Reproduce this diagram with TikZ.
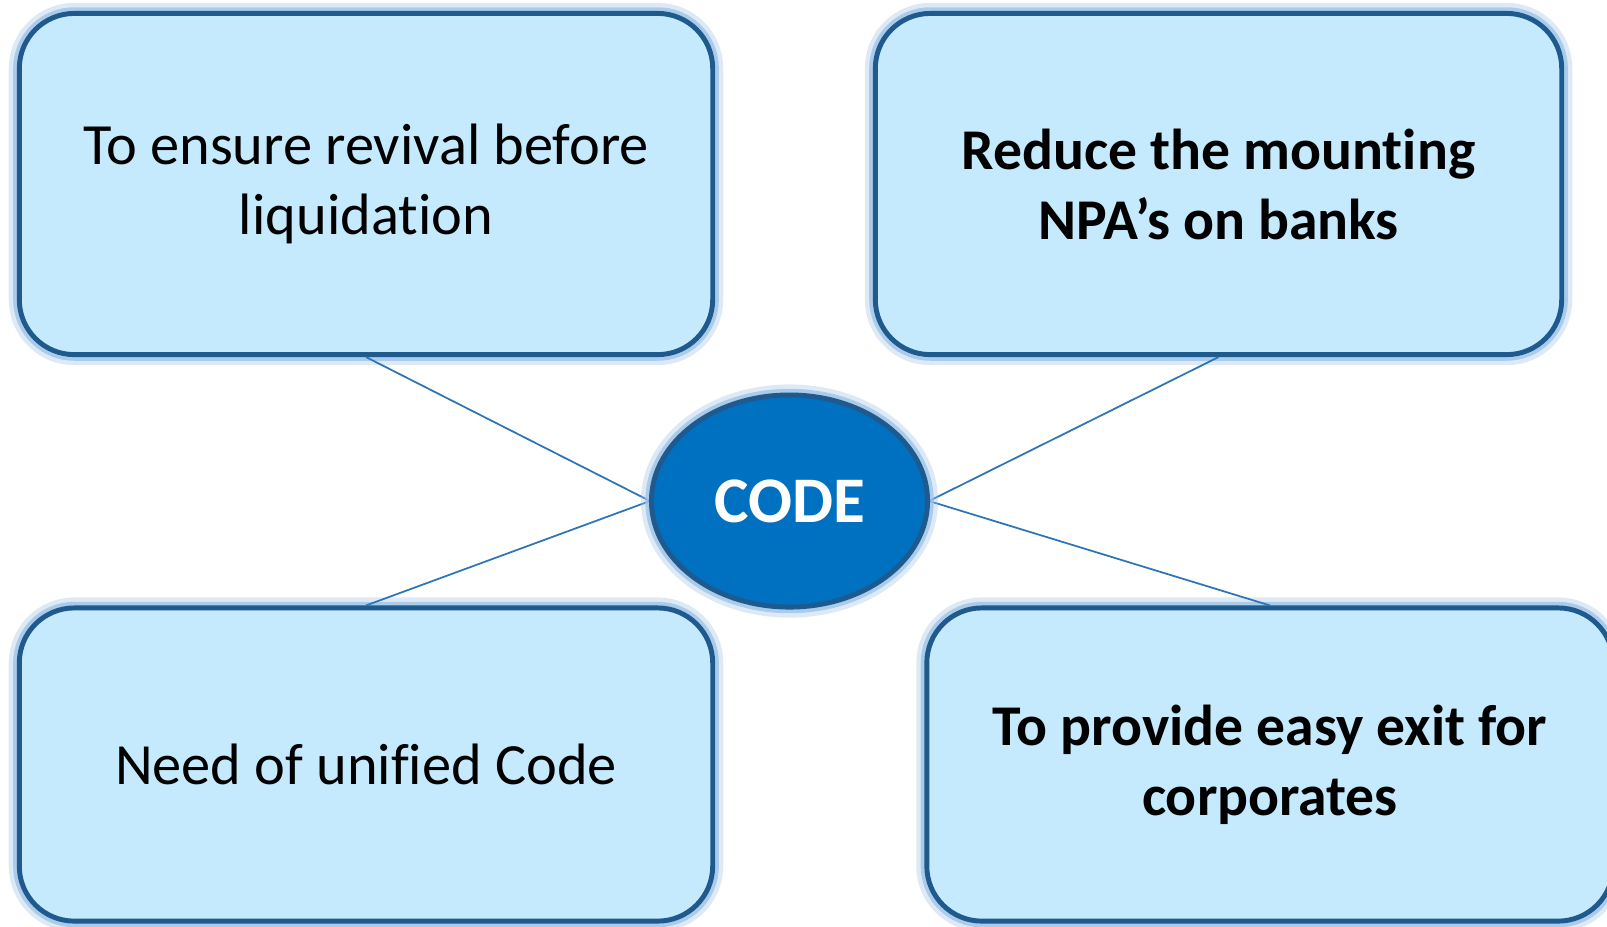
\documentclass[tikz,border=0pt]{standalone}
\usepackage{fontspec}
\setmainfont{Carlito}[Ligatures=NoCommon]
\usetikzlibrary{shapes.geometric}
\definecolor{fondboite}{HTML}{C5E9FD}
\definecolor{bordboite}{HTML}{1F5A8E}
\definecolor{bleucode}{HTML}{0070C0}
\definecolor{halo}{HTML}{9DC3E6}
\definecolor{trait}{HTML}{2E75B6}
\tikzstyle{boite} = [rectangle, draw=bordboite, fill=fondboite, line width=1.4pt, rounded corners=0.55cm, minimum width=6.93cm, minimum height=3.41cm, align=center, font=\fontsize{16.6}{19.9}\selectfont, preaction={draw=halo, line width=6pt, opacity=0.35}, preaction={draw=halo, line width=3.5pt, opacity=0.8}]
\tikzstyle{gras} = [minimum width=6.86cm, font=\fontsize{16.4}{19.9}\selectfont\bfseries]
\tikzstyle{centre} = [ellipse, draw=bordboite, fill=bleucode, line width=1.4pt, minimum width=2.76cm, minimum height=2.12cm, inner sep=0pt, text=white, font=\fontsize{18.5}{22}\selectfont\bfseries, preaction={draw=halo, line width=6pt, opacity=0.35}, preaction={draw=halo, line width=3.5pt, opacity=0.8}]
\tikzstyle{lien} = [draw=trait, line width=0.5pt]

\begin{document}
\begin{tikzpicture}[x=0.01cm, y=-0.01cm]
	\useasboundingbox (0,0) rectangle (1607,926);

%% Les points d'attache sur le centre
	\coordinate (cg) at (650,501);
	\coordinate (cd) at (929,501);

%% Les boites du haut
	\node[boite] (revival) at (366,184) {To ensure revival before\\liquidation};
	\node[boite, gras] (npa) at (1218.5,184) {Reduce the mounting\\NPA’s on banks};

%% Les boites du bas
	\node[boite, minimum height=3.13cm] (unified) at (366,764.5) {Need of unified Code};
	\node[boite, gras, minimum height=3.13cm] (exit) at (1270,764.5) {To provide easy exit for\\corporates};

%% Les traits
	\draw[lien] (revival.south) -- (cg);
	\draw[lien] (npa.south) -- (cd);
	\draw[lien] (unified.north) -- (cg);
	\draw[lien] (exit.north) -- (cd);

%% Le centre
	\node[centre] (code) at (789.5,501) {CODE};

\end{tikzpicture}
\end{document}
